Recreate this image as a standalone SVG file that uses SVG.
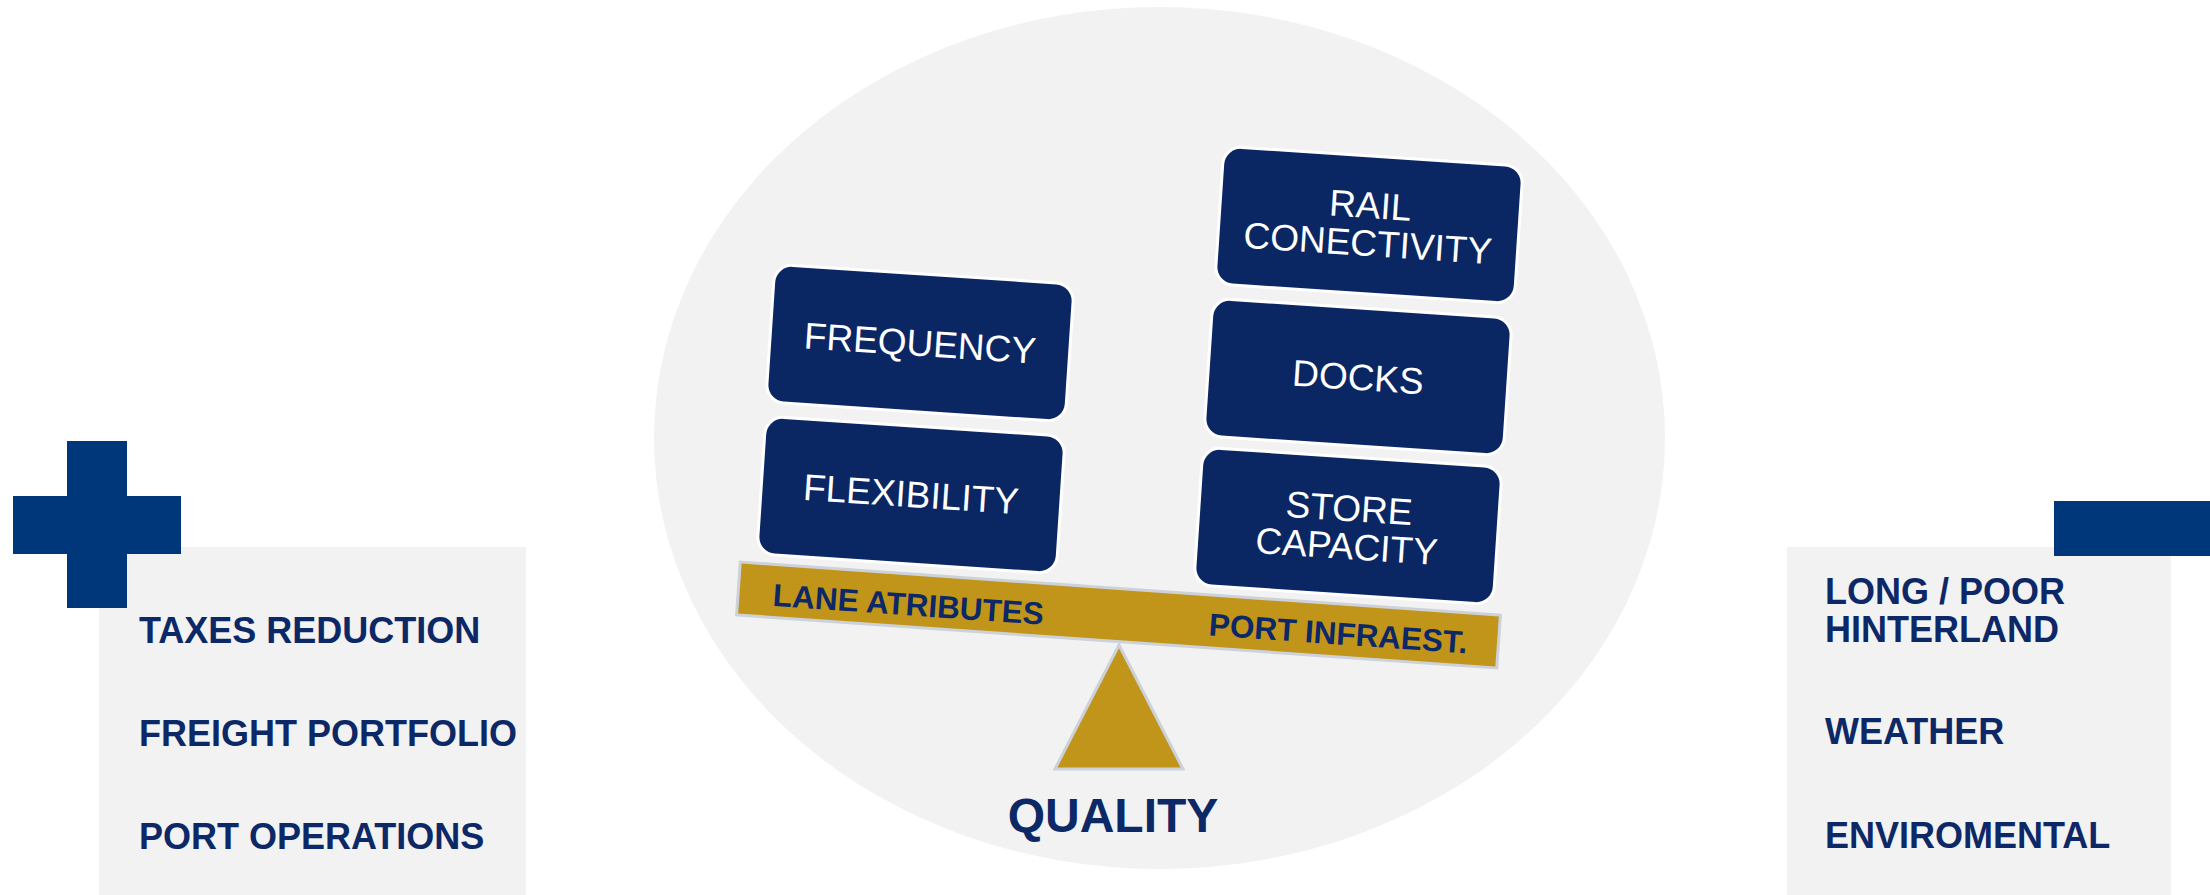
<svg xmlns="http://www.w3.org/2000/svg" width="2210" height="895" viewBox="0 0 2210 895">
  <style>
    .panel { fill: #F2F2F2; }
    .sign { fill: #00377A; }
    .ptxt { font-family: "Liberation Sans", Arial, sans-serif; font-weight: bold; font-size: 36px; fill: #0C2866; }
    .box { fill: #0B2763; stroke: #FFFFFF; stroke-width: 3; }
    .btxt { font-family: "Liberation Sans", Arial, sans-serif; font-size: 37px; fill: #FFFFFF; text-anchor: middle; }
    .gold { fill: #C0951A; stroke: #CDD1D9; stroke-width: 3; }
    .beamtxt { font-family: "Liberation Sans", Arial, sans-serif; font-weight: bold; font-size: 31.5px; fill: #0C2866; }
  </style>
  <rect x="0" y="0" width="2210" height="895" fill="#FFFFFF"/>

  <g id="background-ellipse">
    <ellipse cx="1159.5" cy="438" rx="505.5" ry="431" fill="#F2F2F2"/>
  </g>

  <g id="plus-panel">
    <rect class="panel" x="99" y="547" width="427" height="348"/>
    <rect class="sign" x="67" y="441" width="60" height="167"/>
    <rect class="sign" x="13" y="496" width="168" height="58"/>
    <text class="ptxt" x="139" y="643">TAXES REDUCTION</text>
    <text class="ptxt" x="139" y="746">FREIGHT PORTFOLIO</text>
    <text class="ptxt" x="139" y="849">PORT OPERATIONS</text>
  </g>

  <g id="minus-panel">
    <rect class="panel" x="1787" y="547" width="384" height="348"/>
    <rect class="sign" x="2054" y="501" width="156" height="55"/>
    <text class="ptxt" x="1825" y="604">LONG / POOR</text>
    <text class="ptxt" x="1825" y="642">HINTERLAND</text>
    <text class="ptxt" x="1825" y="744">WEATHER</text>
    <text class="ptxt" x="1825" y="848">ENVIROMENTAL</text>
  </g>

  <g id="fulcrum">
    <polygon class="gold" points="1119,645 1183,769 1055,769"/>
  </g>

  <g id="beam" transform="translate(1118.5,615) rotate(4)">
    <rect class="gold" x="-381" y="-26.5" width="762" height="53"/>
    <text class="beamtxt" x="-346" y="15">LANE ATRIBUTES</text>
    <text class="beamtxt" x="350" y="14" text-anchor="end">PORT INFRAEST.</text>
  </g>

  <g id="frequency" transform="translate(920,343) rotate(3.8)">
    <rect class="box" x="-150" y="-69" width="300" height="138" rx="18"/>
    <text class="btxt" x="0" y="13">FREQUENCY</text>
  </g>

  <g id="flexibility" transform="translate(911,495) rotate(3.8)">
    <rect class="box" x="-150" y="-69" width="300" height="138" rx="18"/>
    <text class="btxt" x="0" y="12">FLEXIBILITY</text>
  </g>

  <g id="rail-conectivity" transform="translate(1369,225) rotate(3.8)">
    <rect class="box" x="-150" y="-69" width="300" height="138" rx="18"/>
    <text class="btxt" x="0" y="-7">RAIL</text>
    <text class="btxt" x="0" y="31">CONECTIVITY</text>
  </g>

  <g id="docks" transform="translate(1358,377) rotate(3.8)">
    <rect class="box" x="-150" y="-69" width="300" height="138" rx="18"/>
    <text class="btxt" x="0" y="13">DOCKS</text>
  </g>

  <g id="store-capacity" transform="translate(1348,526) rotate(3.8)">
    <rect class="box" x="-150" y="-69" width="300" height="138" rx="18"/>
    <text class="btxt" x="0" y="-5">STORE</text>
    <text class="btxt" x="0" y="33">CAPACITY</text>
  </g>

  <g id="quality-label">
    <text x="1113" y="832" text-anchor="middle" font-family="'Liberation Sans', Arial, sans-serif" font-weight="bold" font-size="48" fill="#0C2866">QUALITY</text>
  </g>

  <g id="connectors"></g>
</svg>
